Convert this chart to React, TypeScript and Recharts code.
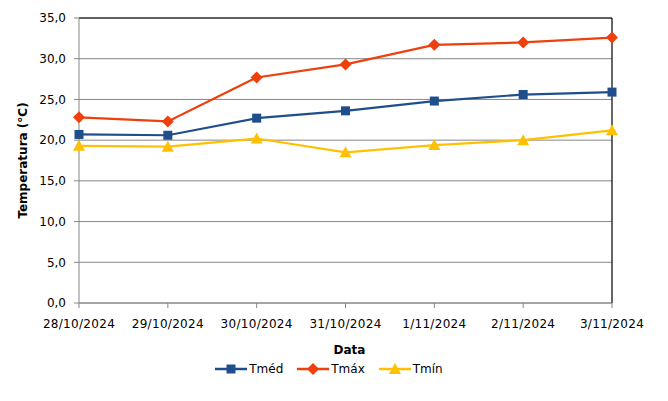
import { CartesianGrid, Legend, Line, LineChart, ReferenceLine, XAxis, YAxis } from 'recharts';

document.body.style.margin = '0';

const dates = ['28/10/2024', '29/10/2024', '30/10/2024', '31/10/2024', '1/11/2024', '2/11/2024', '3/11/2024'];
const tMed = [20.7, 20.6, 22.7, 23.6, 24.8, 25.6, 25.9];
const tMax = [22.8, 22.3, 27.7, 29.3, 31.7, 32.0, 32.6];
const tMin = [19.3, 19.2, 20.2, 18.5, 19.4, 20.0, 21.2];
const yTicks = [0, 5, 10, 15, 20, 25, 30, 35];

const FONT = '"DejaVu Sans", Verdana, sans-serif';
const BLUE = '#1f4e8c';
const RED = '#ee3f0c';
const YELLOW = '#ffc000';

const data = dates.map((date, i) => ({ date, tMed: tMed[i], tMax: tMax[i], tMin: tMin[i] }));

const fmt = (v: number) => v.toFixed(1).replace('.', ',');

function Square({ cx, cy, fill }: { cx: number; cy: number; fill: string }) {
  return <rect x={cx - 4.5} y={cy - 4.5} width={9} height={9} fill={fill} />;
}

function Diamond({ cx, cy, fill }: { cx: number; cy: number; fill: string }) {
  return <polygon points={`${cx},${cy - 6} ${cx + 6},${cy} ${cx},${cy + 6} ${cx - 6},${cy}`} fill={fill} />;
}

function Triangle({ cx, cy, fill }: { cx: number; cy: number; fill: string }) {
  return <polygon points={`${cx},${cy - 6} ${cx + 6},${cy + 5} ${cx - 6},${cy + 5}`} fill={fill} />;
}

const series = [
  { key: 'tMed', name: 'Tméd', color: BLUE, Marker: Square },
  { key: 'tMax', name: 'Tmáx', color: RED, Marker: Diamond },
  { key: 'tMin', name: 'Tmín', color: YELLOW, Marker: Triangle },
];

function YLabel({ viewBox }: any) {
  const x = viewBox.x + 23;
  const y = viewBox.y + viewBox.height / 2;
  return (
    <text x={x} y={y} transform={`rotate(-90 ${x} ${y})`} textAnchor="middle" dominantBaseline="central"
      fontFamily={FONT} fontSize={12} fontWeight="bold" fill="#000">
      Temperatura (°C)
    </text>
  );
}

function XLabel({ viewBox }: any) {
  return (
    <text x={viewBox.x + viewBox.width / 2 + 4} y={354} textAnchor="middle"
      fontFamily={FONT} fontSize={12} fontWeight="bold" fill="#000">
      Data
    </text>
  );
}

function LegendContent() {
  return (
    <div style={{ display: 'flex', justifyContent: 'center', gap: 14, fontFamily: FONT, fontSize: 12, color: '#000', paddingRight: 10 }}>
      {series.map(({ key, name, color, Marker }) => (
        <div key={key} style={{ display: 'flex', alignItems: 'center' }}>
          <svg width={32} height={14} style={{ marginRight: 2 }}>
            <line x1={0} y1={7} x2={32} y2={7} stroke={color} strokeWidth={2.5} />
            <Marker cx={16} cy={7} fill={color} />
          </svg>
          <span>{name}</span>
        </div>
      ))}
    </div>
  );
}

export default function App() {
  return (
    <LineChart width={668} height={401} data={data} margin={{ top: 18, right: 56, bottom: 19, left: 0 }}>
      <CartesianGrid vertical={false} stroke="#868686" />
      <XAxis
        dataKey="date"
        height={59}
        stroke="#868686"
        tickSize={5}
        tickMargin={11}
        tick={{ fill: '#000', fontFamily: FONT, fontSize: 12, letterSpacing: 0.3 }}
        interval={0}
        label={<XLabel />}
      />
      <YAxis
        width={79}
        domain={[0, 35]}
        ticks={yTicks}
        tickFormatter={fmt}
        stroke="#868686"
        tickSize={5}
        tickMargin={8}
        tick={{ fill: '#000', fontFamily: FONT, fontSize: 12 }}
        label={<YLabel />}
      />
      <ReferenceLine y={35} stroke="#000" strokeWidth={1.2} />
      <ReferenceLine x={dates[dates.length - 1]} stroke="#000" strokeWidth={1.2} />
      <Legend
        verticalAlign="bottom"
        height={20}
        content={<LegendContent />}
        wrapperStyle={{ left: 0, width: 668 }}
      />
      {series.map(({ key, name, color, Marker }) => (
        <Line
          key={key}
          dataKey={key}
          name={name}
          stroke={color}
          strokeWidth={2.2}
          isAnimationActive={false}
          dot={(p: any) => <Marker key={`${key}-${p.index}`} cx={p.cx} cy={p.cy} fill={color} />}
          activeDot={false}
        />
      ))}
    </LineChart>
  );
}
